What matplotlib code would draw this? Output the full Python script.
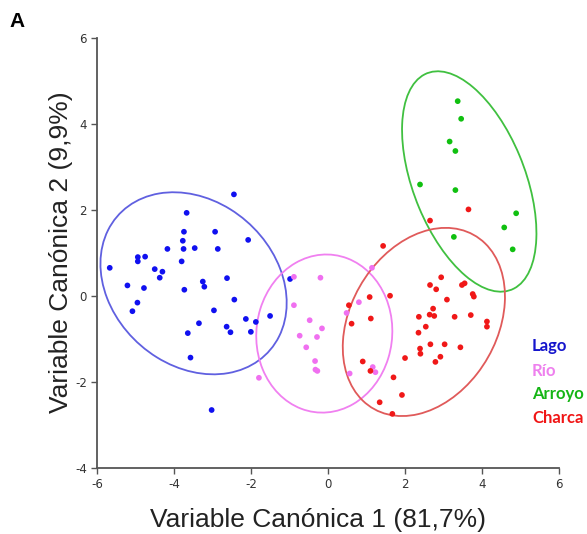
import matplotlib
matplotlib.use("Agg")
import matplotlib.pyplot as plt
from matplotlib.patches import Ellipse

plt.rcParams["axes.unicode_minus"] = False

# ---- data ----
groups = ["Lago", "Río", "Arroyo", "Charca"]

lago_x = [-2.45, -3.68, -3.75, -2.94, -3.78, -2.08, -4.18, -3.76, -3.47, -2.87,
          -4.95, -4.76, -4.95, -3.81, -5.68, -4.51, -4.31, -4.38, -2.63, -5.22,
          -4.79, -3.26, -3.22, -3.74, -2.44, -4.96, -5.09, -2.97, -1.51, -2.14,
          -1.88, -3.36, -2.64, -2.54, -2.01, -3.65, -3.58, -3.03, -0.99]
lago_y = [2.37, 1.94, 1.50, 1.50, 1.29, 1.31, 1.10, 1.10, 1.12, 1.10,
          0.91, 0.92, 0.81, 0.81, 0.66, 0.63, 0.57, 0.43, 0.42, 0.25,
          0.19, 0.34, 0.22, 0.15, -0.08, -0.15, -0.35, -0.33, -0.46, -0.53,
          -0.60, -0.63, -0.71, -0.84, -0.83, -0.86, -1.43, -2.65, 0.40]

rio_x = [-0.89, -0.20, -0.89, -0.48, -0.16, -0.74, -0.29, -0.57, -0.34, -0.33,
         -0.28, -1.80, 1.14, 0.80, 0.48, 0.56, 1.16, 1.23]
rio_y = [0.45, 0.43, -0.21, -0.56, -0.75, -0.92, -0.95, -1.19, -1.51, -1.71,
         -1.74, -1.90, 0.66, -0.14, -0.39, -1.80, -1.65, -1.77]

arroyo_x = [3.37, 3.46, 3.16, 3.31, 2.39, 3.31, 4.89, 4.58, 3.27, 4.80]
arroyo_y = [4.54, 4.13, 3.60, 3.38, 2.60, 2.47, 1.93, 1.60, 1.38, 1.09]

charca_x = [1.43, 2.94, 2.65, 2.81, 3.48, 3.55, 3.76, 3.79, 1.61, 1.08,
            3.09, 0.54, 2.73, 2.64, 2.76, 2.36, 3.29, 3.71, 1.11, 4.13,
            4.13, 0.61, 2.54, 2.35, 2.66, 3.03, 3.44, 2.39, 2.40, 2.00,
            2.92, 2.79, 0.90, 1.10, 1.70, 1.92, 1.34, 1.67, 3.65, 2.65]
charca_y = [1.17, 0.44, 0.26, 0.16, 0.26, 0.30, 0.05, -0.01, 0.01, -0.02,
            -0.08, -0.21, -0.29, -0.43, -0.46, -0.48, -0.48, -0.44, -0.52, -0.59,
            -0.71, -0.64, -0.71, -0.85, -1.12, -1.12, -1.19, -1.22, -1.34, -1.44,
            -1.41, -1.53, -1.52, -1.74, -1.89, -2.30, -2.47, -2.74, 2.02, 1.76]

# confidence ellipses (centre x, centre y, width, height, angle in degrees)
ell_cx = [-3.50, -0.10, 3.67, 2.49]
ell_cy = [0.30, -0.87, 2.67, -0.60]
ell_w = [5.09, 3.70, 5.50, 4.85]
ell_h = [3.94, 3.52, 2.88, 3.67]
ell_ang = [-29, 71, 115, 49]

xticks = [-6, -4, -2, 0, 2, 4, 6]
yticks = [-4, -2, 0, 2, 4, 6]

# ---- style ----
pt_colors = ["#1010f0", "#f070f0", "#10c010", "#f01818"]
ell_colors = ["#6060e0", "#f080f0", "#40c040", "#e05a5a"]
lab_colors = ["#1515cc", "#ee80ee", "#15b515", "#f01515"]

fig = plt.figure(figsize=(5.87, 5.34), dpi=100)
ax = fig.add_axes([0.166, 0.1236, 0.786, 0.8044])

xs = [lago_x, rio_x, arroyo_x, charca_x]
ys = [lago_y, rio_y, arroyo_y, charca_y]
for i in range(4):
    ax.add_patch(Ellipse((ell_cx[i], ell_cy[i]), ell_w[i], ell_h[i], angle=ell_ang[i],
                         fill=False, edgecolor=ell_colors[i], lw=1.3, zorder=2))
for i in range(4):
    ax.scatter(xs[i], ys[i], s=17, color=pt_colors[i], edgecolors="none", zorder=3)

ax.set_xlim(-6, 6)
ax.set_ylim(-4, 6)
ax.set_xticks(xticks)
ax.set_yticks(yticks)
for s in ["top", "right"]:
    ax.spines[s].set_visible(False)
for s in ["left", "bottom"]:
    ax.spines[s].set_color("#555555")
    ax.spines[s].set_linewidth(1.3)
ax.tick_params(direction="out", length=4, width=1, color="#555555",
               labelcolor="#333333", labelsize=8.5)
for lab in ax.get_xticklabels() + ax.get_yticklabels():
    lab.set_family(["Liberation Sans Narrow", "DejaVu Sans"])

fig.text(317.5 / 587, 1 - 520 / 534, "Variable Canónica 1 (81,7%)", fontsize=19,
         family="Liberation Sans", color="#222222", ha="center", va="center")
fig.text(61 / 587, 1 - 252 / 534, "Variable Canónica 2 (9,9%)", fontsize=19,
         family="Liberation Sans", color="#222222", ha="center", va="center",
         rotation=90)

label_y = [-1.16, -1.74, -2.28, -2.84]
for i, g in enumerate(groups):
    ax.text(5.30, label_y[i], g, color=lab_colors[i], fontsize=12,
            fontweight="bold", family="Lato", ha="left", va="center", clip_on=False)

fig.text(0.017, 0.960, "A", fontsize=15, fontweight="bold", family="Liberation Sans",
         ha="left", va="center")

fig.savefig("out.png", dpi=100, facecolor="white")
